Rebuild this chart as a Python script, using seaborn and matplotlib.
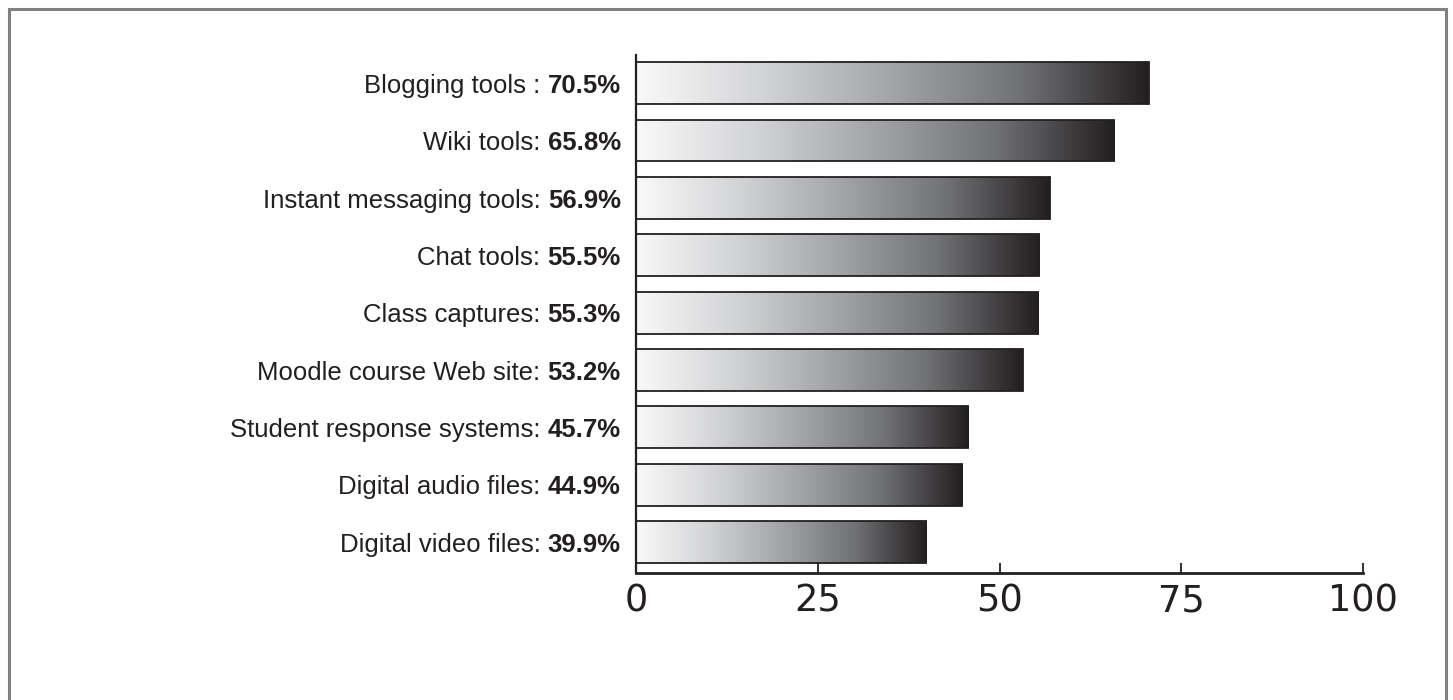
import numpy as np
import matplotlib
matplotlib.use('Agg')
import matplotlib.pyplot as plt
from matplotlib.colors import LinearSegmentedColormap
from matplotlib.lines import Line2D
import seaborn as sns

# donnees
outils = ['Blogging tools : ', 'Wiki tools: ', 'Instant messaging tools: ', 'Chat tools: ',
          'Class captures: ', 'Moodle course Web site: ', 'Student response systems: ',
          'Digital audio files: ', 'Digital video files: ']
pourcentages = [70.5, 65.8, 56.9, 55.5, 55.3, 53.2, 45.7, 44.9, 39.9]
ticks_x = [0, 25, 50, 75, 100]

sns.set_theme(style='white')
plt.rcParams['font.family'] = ['Liberation Sans', 'DejaVu Sans']

fig = plt.figure(figsize=(14.53, 7), dpi=100)
ax = fig.add_axes([636 / 1453, 1 - 573 / 700, 727 / 1453, 518 / 700])

sns.barplot(x=pourcentages, y=list(range(len(outils))), orient='h', ax=ax,
            color='white', edgecolor='#231f20', linewidth=1.3, width=0.73)

# degrade blanc -> noir dans chaque barre
cmap = LinearSegmentedColormap.from_list('degrade', ['#f9f9f9', '#d2d3d5', '#a2a4a7',
                                                      '#717275', '#231f20'])
grad = np.linspace(0, 1, 256).reshape(1, -1)
for p in ax.patches:
    x0, y0 = p.get_x(), p.get_y()
    w, h = p.get_width(), p.get_height()
    im = ax.imshow(grad, cmap=cmap, aspect='auto', extent=[x0, x0 + w, y0 + h, y0],
                   zorder=p.get_zorder() - 0.1, interpolation='bilinear')
    im.set_clip_path(p)
    p.set_facecolor('none')

ax.set_xlim(0, 100)
ax.set_ylim(8.54, -0.49)

# etiquettes : partie normale + pourcentage en gras
ax.set_yticks([])
for i, (nom, val) in enumerate(zip(outils, pourcentages)):
    t = ax.annotate(f'{val}%', xy=(0, i), xytext=(-11, -2), textcoords='offset points',
                    ha='right', va='center', fontsize=18.5, fontweight='bold', color='#231f20')
    ax.annotate(nom, xy=(0, 0), xycoords=t, ha='right', va='bottom',
                fontsize=18.5, color='#231f20')

# axe x
ax.set_xticks(ticks_x)
ax.set_xticklabels([str(v) for v in ticks_x], fontfamily='DejaVu Sans')
ax.tick_params(axis='x', direction='in', length=7, width=1.3, colors='#231f20',
               labelsize=26.5, pad=7, bottom=True)
sns.despine(ax=ax, top=True, right=True)
ax.spines['left'].set_color('#231f20')
ax.spines['left'].set_linewidth(1.6)
ax.spines['bottom'].set_color('#231f20')
ax.spines['bottom'].set_linewidth(2)

# cadre gris
bx0, bx1, by = 8.5 / 1453, 1445.5 / 1453, 1 - 9 / 700
fig.add_artist(Line2D([bx0, bx0, bx1, bx1], [0, by, by, 0], transform=fig.transFigure,
                      color='#808080', lw=2.2, solid_joinstyle='miter'))

fig.savefig('out.png', dpi=100, facecolor='white')
